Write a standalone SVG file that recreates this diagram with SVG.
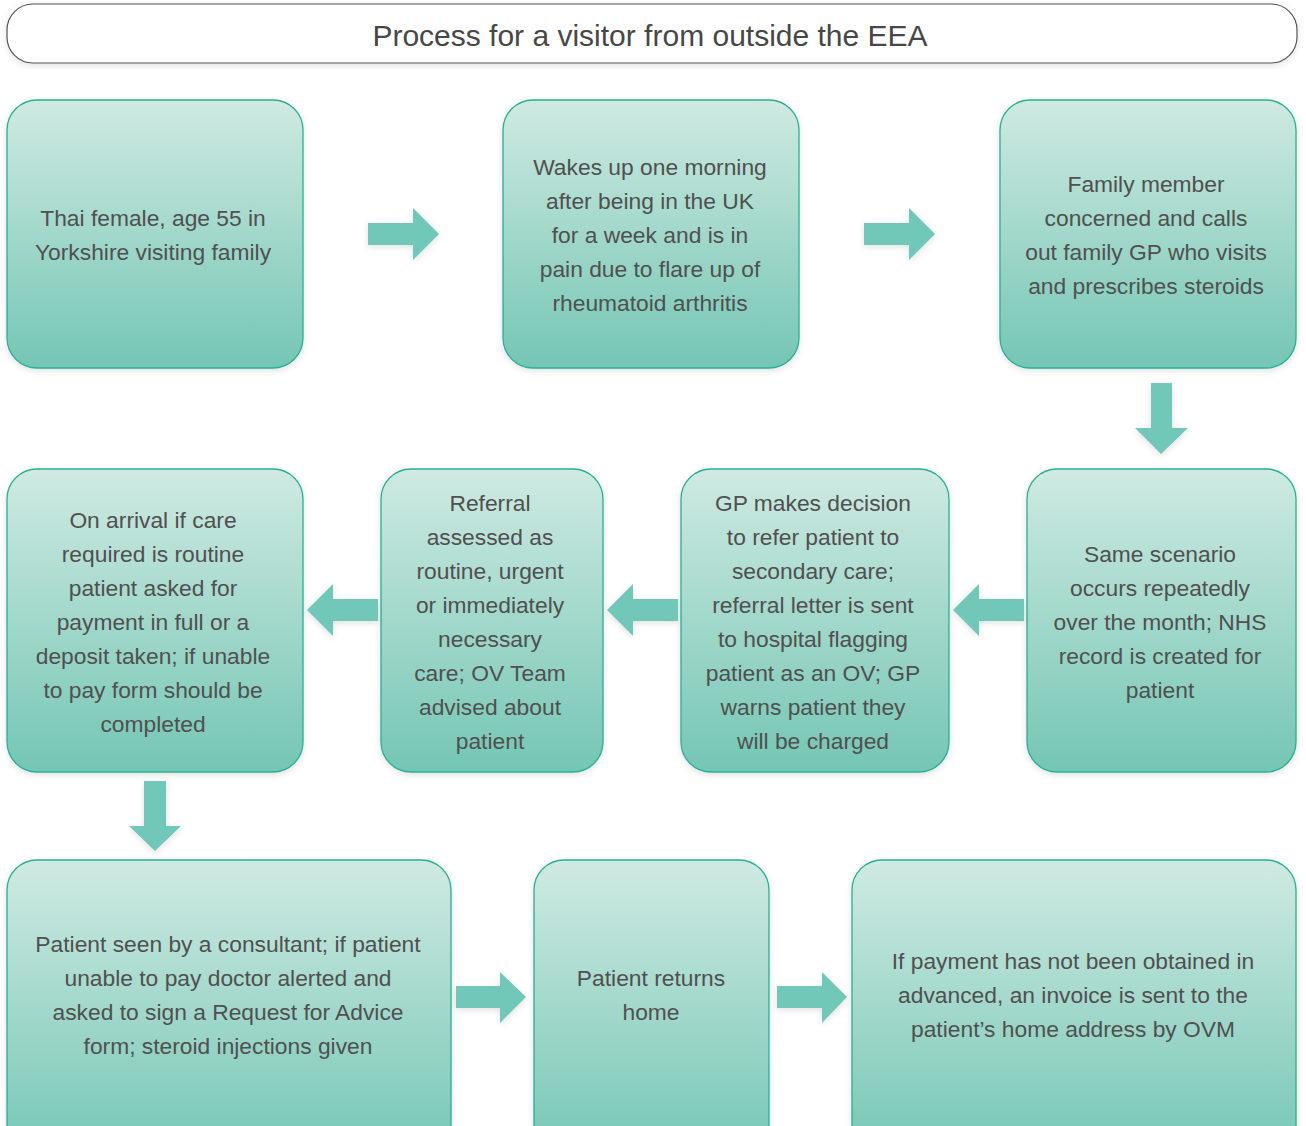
<svg xmlns="http://www.w3.org/2000/svg" width="1306" height="1126" viewBox="0 0 1306 1126">
<defs>
<linearGradient id="g" x1="0" y1="0" x2="0" y2="1">
<stop offset="0" stop-color="#cfeae2"/>
<stop offset="1" stop-color="#74c6b4"/>
</linearGradient>
<filter id="sh" x="-10%" y="-10%" width="120%" height="120%">
<feDropShadow dx="0" dy="2" stdDeviation="3" flood-color="#000" flood-opacity="0.12"/>
</filter>
<style>
.box{fill:url(#g);stroke:#29b096;stroke-width:1.3;filter:url(#sh)}
.t{font-family:"Liberation Sans",Arial,sans-serif;font-size:22.8px;fill:#505050;text-anchor:middle}
.arr{fill:#72c8b8;filter:url(#sh)}
</style>
</defs>
<rect width="1306" height="1126" fill="#fff"/>
<g id="title">
<rect x="7" y="4" width="1290" height="59" rx="26" fill="#fff" stroke="#555" stroke-width="1.2" filter="url(#sh)"/>
<text x="650" y="46" style="font-family:'Liberation Sans',Arial,sans-serif;font-size:30px;fill:#474747;text-anchor:middle">Process for a visitor from outside the EEA</text>
</g>
<g id="n1"><rect class="box" x="7" y="100" width="296" height="268" rx="30"/>
<text class="t"><tspan x="153" y="226">Thai female, age 55 in</tspan><tspan x="153" y="260">Yorkshire visiting family</tspan></text></g>
<g id="n2"><rect class="box" x="503" y="100" width="296" height="268" rx="30"/>
<text class="t"><tspan x="650" y="175">Wakes up one morning</tspan><tspan x="650" y="209">after being in the UK</tspan><tspan x="650" y="243">for a week and is in</tspan><tspan x="650" y="277">pain due to flare up of</tspan><tspan x="650" y="311">rheumatoid arthritis</tspan></text></g>
<g id="n3"><rect class="box" x="1000" y="100" width="296" height="268" rx="30"/>
<text class="t"><tspan x="1146" y="192">Family member</tspan><tspan x="1146" y="226">concerned and calls</tspan><tspan x="1146" y="260">out family GP who visits</tspan><tspan x="1146" y="294">and prescribes steroids</tspan></text></g>
<g id="n4"><rect class="box" x="1027" y="469" width="269" height="303" rx="30"/>
<text class="t"><tspan x="1160" y="562">Same scenario</tspan><tspan x="1160" y="596">occurs repeatedly</tspan><tspan x="1160" y="630">over the month; NHS</tspan><tspan x="1160" y="664">record is created for</tspan><tspan x="1160" y="698">patient</tspan></text></g>
<g id="n5"><rect class="box" x="681" y="469" width="268" height="303" rx="30"/>
<text class="t"><tspan x="813" y="511">GP makes decision</tspan><tspan x="813" y="545">to refer patient to</tspan><tspan x="813" y="579">secondary care;</tspan><tspan x="813" y="613">referral letter is sent</tspan><tspan x="813" y="647">to hospital flagging</tspan><tspan x="813" y="681">patient as an OV; GP</tspan><tspan x="813" y="715">warns patient they</tspan><tspan x="813" y="749">will be charged</tspan></text></g>
<g id="n6"><rect class="box" x="381" y="469" width="222" height="303" rx="30"/>
<text class="t"><tspan x="490" y="511">Referral</tspan><tspan x="490" y="545">assessed as</tspan><tspan x="490" y="579">routine, urgent</tspan><tspan x="490" y="613">or immediately</tspan><tspan x="490" y="647">necessary</tspan><tspan x="490" y="681">care; OV Team</tspan><tspan x="490" y="715">advised about</tspan><tspan x="490" y="749">patient</tspan></text></g>
<g id="n7"><rect class="box" x="7" y="469" width="296" height="303" rx="30"/>
<text class="t"><tspan x="153" y="528">On arrival if care</tspan><tspan x="153" y="562">required is routine</tspan><tspan x="153" y="596">patient asked for</tspan><tspan x="153" y="630">payment in full or a</tspan><tspan x="153" y="664">deposit taken; if unable</tspan><tspan x="153" y="698">to pay form should be</tspan><tspan x="153" y="732">completed</tspan></text></g>
<g id="n8"><rect class="box" x="7" y="860" width="444" height="300" rx="30"/>
<text class="t"><tspan x="228" y="952">Patient seen by a consultant; if patient</tspan><tspan x="228" y="986">unable to pay doctor alerted and</tspan><tspan x="228" y="1020">asked to sign a Request for Advice</tspan><tspan x="228" y="1054">form; steroid injections given</tspan></text></g>
<g id="n9"><rect class="box" x="534" y="860" width="235" height="300" rx="30"/>
<text class="t"><tspan x="651" y="986">Patient returns</tspan><tspan x="651" y="1020">home</tspan></text></g>
<g id="n10"><rect class="box" x="852" y="860" width="444" height="300" rx="30"/>
<text class="t"><tspan x="1073" y="969">If payment has not been obtained in</tspan><tspan x="1073" y="1003">advanced, an invoice is sent to the</tspan><tspan x="1073" y="1037">patient’s home address by OVM</tspan></text></g>
<g id="connectors">
<polygon class="arr" points="368,223 413,223 413,208 439,234 413,260 413,245 368,245"/>
<polygon class="arr" points="864,223 909,223 909,208 935,234 909,260 909,245 864,245"/>
<polygon class="arr" points="1151,383 1172,383 1172,428 1188,428 1161,454 1135,428 1151,428"/>
<polygon class="arr" points="1024,599 979,599 979,584 953,610 979,636 979,621 1024,621"/>
<polygon class="arr" points="678,599 633,599 633,584 607,610 633,636 633,621 678,621"/>
<polygon class="arr" points="378,599 333,599 333,584 307,610 333,636 333,621 378,621"/>
<polygon class="arr" points="144,781 166,781 166,826 181,826 155,851 129,826 144,826"/>
<polygon class="arr" points="456,986 500,986 500,972 526,997 500,1023 500,1008 456,1008"/>
<polygon class="arr" points="777,986 822,986 822,972 847,997 822,1023 822,1008 777,1008"/>
</g>
</svg>
